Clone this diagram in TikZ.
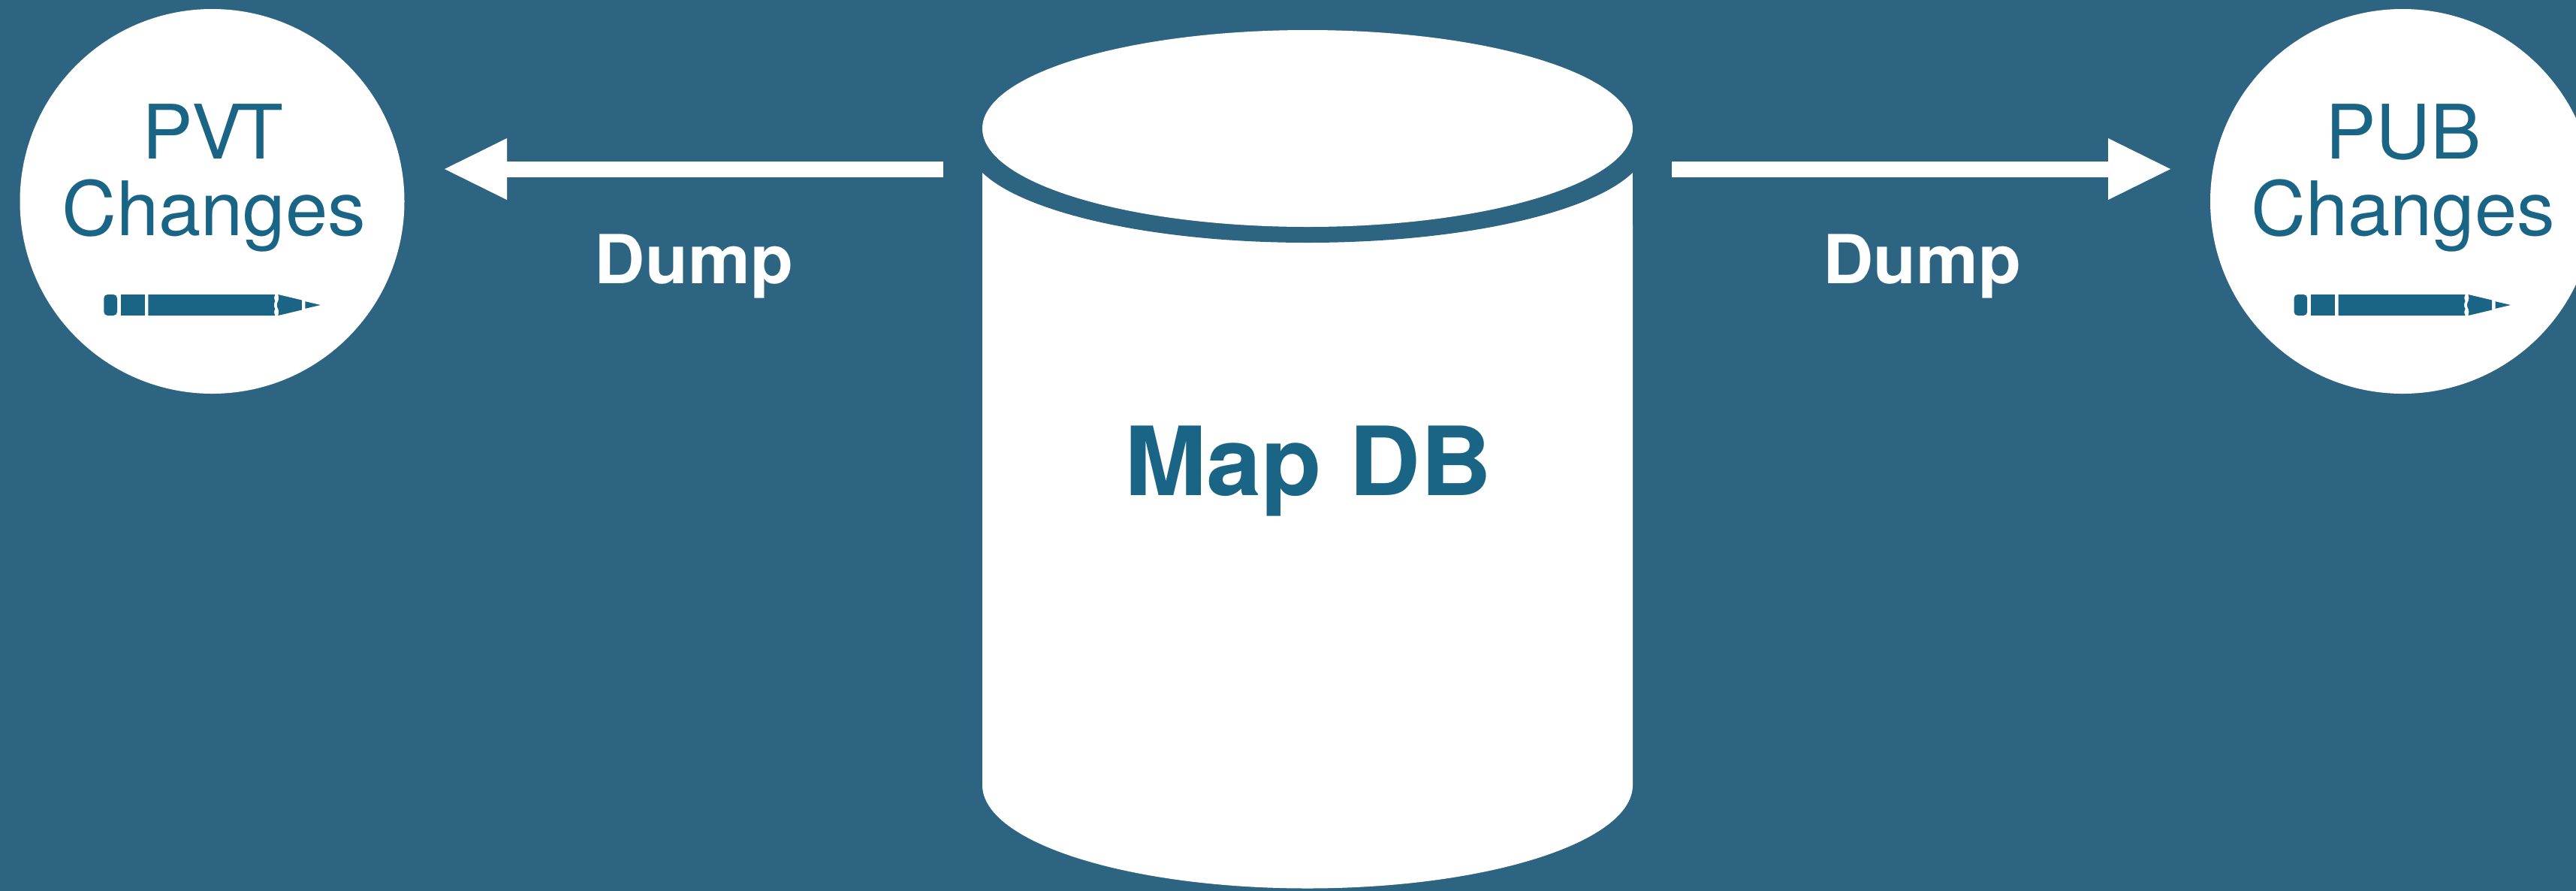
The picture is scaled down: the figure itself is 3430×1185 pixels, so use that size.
\documentclass[tikz,border=0pt]{standalone}
\usepackage{fontspec}
\setmainfont{TeX Gyre Heros}[FakeStretch=1.012]
\newfontfamily\boldheros{TeX Gyre Heros Bold}[FakeStretch=1.035]
\usetikzlibrary{arrows.meta}
\definecolor{bgblue}{RGB}{44,100,130}
\definecolor{inkblue}{RGB}{26,101,133}
\tikzset{
  x=0.5pt,y=-0.5pt,
  bubble/.style={circle,fill=white,inner sep=0pt,minimum size=256pt},
  bubbletext/.style={anchor=base,inner sep=0pt,text=inkblue,font=\fontsize{50}{50}\selectfont},
  dumptext/.style={anchor=base,inner sep=0pt,text=white,font=\fontsize{45}{45}\boldheros\selectfont},
  dbtext/.style={anchor=base,inner sep=0pt,text=inkblue,font=\fontsize{63.5}{63.5}\boldheros\selectfont},
  dumparrow/.style={draw=white,line width=10.5pt,-{Triangle[length=41.5pt,width=41pt,line width=0pt,fill=white]}},
  pencilicon/.pic={
    \fill[inkblue,rounded corners=2.5pt] (0,-14) -- (17.7,-14) -- (17.7,14) -- (0,14) -- cycle;
    \fill[inkblue] (22.7,-14) rectangle (54.4,14);
    \fill[inkblue] (59,-14) -- (228,-14) .. controls (226,-9) and (226.5,-8) .. (228,-5) .. controls (226,-2) and (226,2) .. (228,5) .. controls (226.5,8) and (226,9) .. (228,14) -- (59,14) -- cycle;
    \fill[inkblue] (232,-14) -- (263.5,-6.5) -- (263.5,6.5) -- (232,14) .. controls (233,9) and (233.5,8) .. (232,5) .. controls (230,2) and (230,-2) .. (232,-5) .. controls (233.5,-8) and (233,-9) .. (232,-14) -- cycle;
    \fill[inkblue] (268,-4.8) -- (288.5,0) -- (268,4.8) -- cycle;
  }
}
\begin{document}
\begin{tikzpicture}
\useasboundingbox (0,0) rectangle (3430,1185);
\fill[bgblue] (-5,-5) rectangle (3435,1190);
\begin{scope}
  \clip (0,0) rectangle (3430,1185);
  % cylinder body
  \fill[white] (1308,230) -- (1308,1045) arc[start angle=180,end angle=0,x radius=433,y radius=137.5] -- (2174,230) -- cycle;
  \fill[bgblue] (1741,192) ellipse[x radius=452,y radius=131];
  \fill[bgblue] (1200,100) rectangle (1308,300);
  \fill[bgblue] (2174,100) rectangle (2280,300);
  \fill[white] (1741,171) ellipse[x radius=433,y radius=131];
  \node[bubble] (pvt) at (282.5,268) {};
  \node[bubble] (pub) at (3199,268) {};
\end{scope}
\node[dbtext] (db) at (1742,659) {Map DB};
\node[bubbletext] (pvtA) at (283.5,211) {P\kern-1pt V\kern-3.5pt T};
\node[bubbletext] (pvtB) at (284.5,313) {Changes};
\node[bubbletext] (pubA) at (3200,211) {PUB};
\node[bubbletext] (pubB) at (3199.5,313) {Changes};
\pic at (138.3,406) {pencilicon};
\pic at (3054.5,406) {pencilicon};
\node[dumptext] (dumpL) at (924,377) {Dump};
\node[dumptext] (dumpR) at (2559.5,377) {Dump};
\coordinate (ltail) at (1255.5,225);
\coordinate (ltip) at (592,225);
\coordinate (rtail) at (2226,225);
\coordinate (rtip) at (2890,225);
\draw[dumparrow] (ltail) -- (ltip);
\draw[dumparrow] (rtail) -- (rtip);
\end{tikzpicture}
\end{document}
